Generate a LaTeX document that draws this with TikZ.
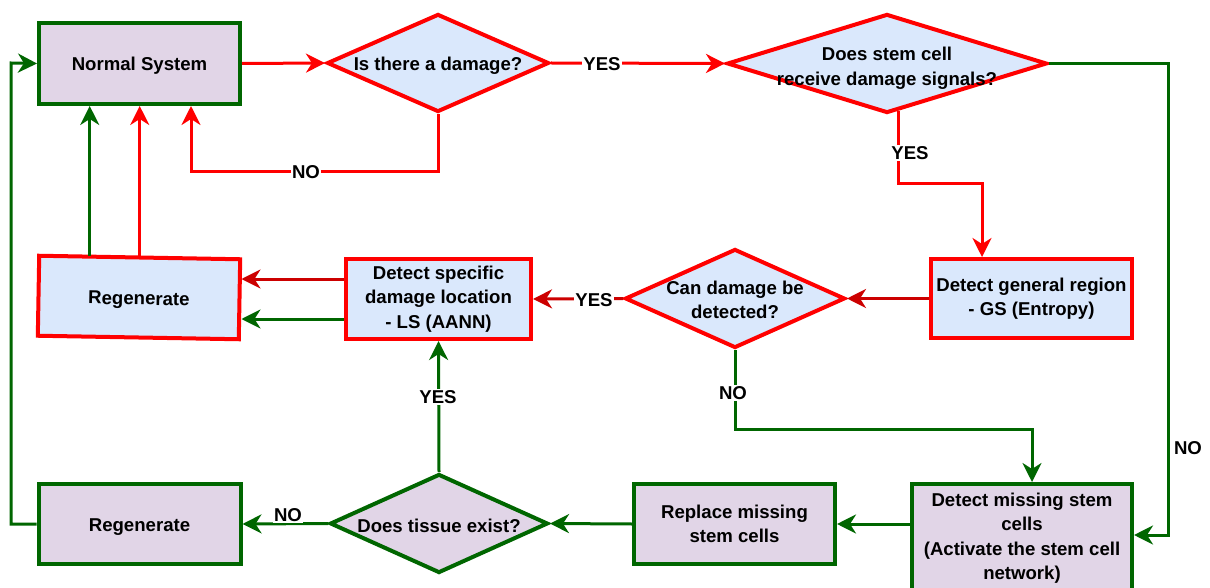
\documentclass[tikz,border=0pt]{standalone}
\usepackage{fontspec}
\setmainfont{Liberation Sans}
\usetikzlibrary{shapes.geometric,arrows.meta}
\definecolor{linered}{HTML}{FF0000}
\definecolor{linedarkred}{HTML}{CC0000}
\definecolor{linegreen}{HTML}{006600}
\definecolor{fillblue}{HTML}{DAE8FC}
\definecolor{fillpurple}{HTML}{E1D5E7}
\begin{document}
\begin{tikzpicture}[x=1pt, y=-1pt,
  box/.style={rectangle, draw, line width=4pt, inner sep=0pt, align=center,
    text=black, font=\fontsize{18.6}{24.5}\selectfont\bfseries,
    execute at begin node={\rule{0pt}{18.5pt}}},
  bluebox/.style={box, fill=fillblue, draw=linered},
  purplebox/.style={box, fill=fillpurple, draw=linegreen},
  dia/.style={diamond, draw, line width=4pt, inner sep=0pt},
  bluedia/.style={dia, fill=fillblue, draw=linered},
  purpledia/.style={dia, fill=fillpurple, draw=linegreen},
  txt/.style={align=center, inner sep=0pt, text=black,
    font=\fontsize{18.6}{24.5}\selectfont\bfseries},
  conn/.style={line width=3pt, -{Stealth[length=19pt, width=19pt, inset=6pt]}},
  lbl/.style={fill=white, inner sep=1.5pt, text=black,
    font=\fontsize{18.6}{22}\selectfont\bfseries}
]
\useasboundingbox (0,0) rectangle (1210,588);

% ---- boxes ----
\node[purplebox, minimum width=201pt, minimum height=81pt] (ns) at (139.5,63.5) {Normal System};
\node[bluebox, minimum width=201pt, minimum height=80pt, rotate=-1] (reg1) at (139,297.5) {Regenerate};
\node[bluebox, minimum width=185pt, minimum height=80pt] (ls) at (438.5,299) {Detect specific\\damage location\\- LS (AANN)};
\node[bluebox, minimum width=201pt, minimum height=79pt] (gs) at (1031.5,298.5) {Detect general region\\- GS (Entropy)};
\node[purplebox, minimum width=202pt, minimum height=80pt] (reg2) at (139.5,524) {Regenerate};
\node[purplebox, minimum width=201pt, minimum height=80pt] (rep) at (734.5,524) {Replace missing\\stem cells};
\node[purplebox, minimum width=220pt, minimum height=108pt] (dm) at (1022,538)
  {Detect missing stem\\cells\\(Activate the stem cell\\network)};

% ---- decisions ----
\node[bluedia, minimum width=222pt, minimum height=98pt] (d1) at (438,63) {};
\node[txt] (d1t) at (438,65.5) {Is there a damage?};
\node[bluedia, minimum width=320pt, minimum height=99pt] (d2) at (887,63.5) {};
\node[txt] (d2t) at (887,68) {Does stem cell\\receive damage signals?};
\node[bluedia, minimum width=220pt, minimum height=99pt] (d3) at (735,298.5) {};
\node[txt] (d3t) at (735,300) {Can damage be\\detected?};
\node[purpledia, minimum width=218pt, minimum height=99pt] (d4) at (439,523.5) {};
\node[txt] (d4t) at (439,525.5) {Does tissue exist?};

% ---- bend points ----
\coordinate (c1) at (191,172);
\coordinate (c2) at (982,184);
\coordinate (c3) at (1168,535);
\coordinate (c4) at (1032,429);
\coordinate (c5) at (11,63);
\coordinate (lsup) at ([yshift=20pt]ls.west);
\coordinate (lsdn) at ([yshift=-20pt]ls.west);
\coordinate (rgl) at ([xshift=-50pt]reg1.north);

% ---- connectors ----
\draw[conn, linered] (ns.east) -- (d1.west);
\draw[conn, linered] (d1.east) -- (d2.west);
\draw[conn, linered] (d1.south) |- (c1) -- (c1 |- ns.south);
\draw[conn, linered] (d2.-77) |- (c2) -- (c2 |- gs.north);
\draw[conn, linegreen] (d2.east) -| (c3) -- (c3 -| dm.east);
\draw[conn, linedarkred] (gs.west) -- (d3.east);
\draw[conn, linedarkred] (d3.west) -- (ls.east);
\draw[conn, linegreen] (d3.south) |- (c4) -- (c4 |- dm.north);
\draw[conn, linedarkred] (lsup) -- (lsup -| reg1.east);
\draw[conn, linegreen] (lsdn) -- (lsdn -| reg1.east);
\draw[conn, linered] (reg1.north) -- (reg1.north |- ns.south);
\draw[conn, linegreen] (rgl) -- (rgl |- ns.south);
\draw[conn, linegreen] (rep.east -| dm.west) -- (rep.east);
\draw[conn, linegreen] (rep.west) -- (d4.east);
\draw[conn, linegreen] (d4.north) -- (ls.south);
\draw[conn, linegreen] (d4.west) -- (reg2.east);
\draw[conn, linegreen] (reg2.west) -| (c5) -- (ns.west);

% ---- connector labels ----
\node[lbl] (l1) at (602,64) {YES};
\node[lbl] (l2) at (306,172) {NO};
\node[lbl] (l3) at (910,153) {YES};
\node[lbl, fill=none] (l4) at (1188,448) {NO};
\node[lbl] (l5) at (594,300) {YES};
\node[lbl] (l6) at (733,393) {NO};
\node[lbl] (l7) at (438,397) {YES};
\node[lbl] (l8) at (288,515) {NO};
\end{tikzpicture}
\end{document}
